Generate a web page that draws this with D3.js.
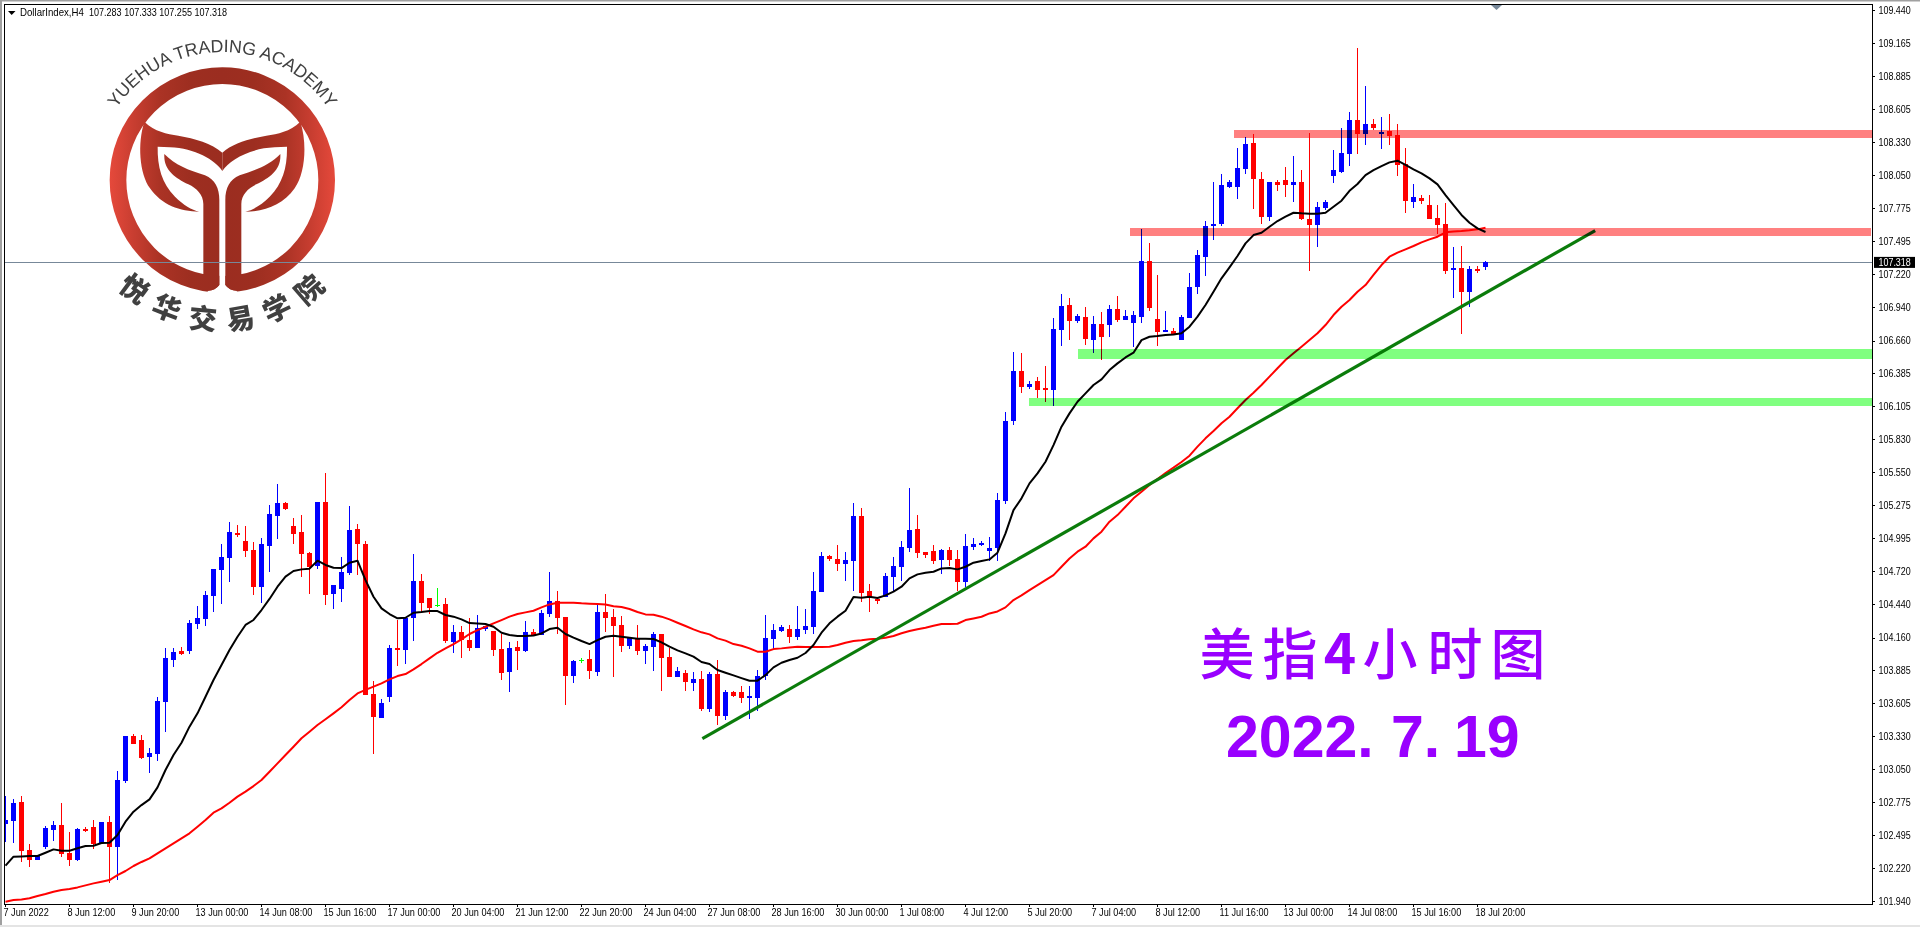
<!DOCTYPE html>
<html><head><meta charset="utf-8"><title>DollarIndex H4</title>
<script src="https://cdnjs.cloudflare.com/ajax/libs/d3/7.8.5/d3.min.js"></script>
<style>html,body{margin:0;padding:0;background:#fff;overflow:hidden}svg{display:block}</style></head><body>
<svg id="c" width="1920" height="927"></svg>
<script>
const priceTicks=[109.44,109.165,108.885,108.605,108.33,108.05,107.775,107.495,107.22,106.94,106.66,106.385,106.105,105.83,105.55,105.275,104.995,104.72,104.44,104.16,103.885,103.605,103.33,103.05,102.775,102.495,102.22,101.94];
const dateLabels=["7 Jun 2022","8 Jun 12:00","9 Jun 20:00","13 Jun 00:00","14 Jun 08:00","15 Jun 16:00","17 Jun 00:00","20 Jun 04:00","21 Jun 12:00","22 Jun 20:00","24 Jun 04:00","27 Jun 08:00","28 Jun 16:00","30 Jun 00:00","1 Jul 08:00","4 Jul 12:00","5 Jul 20:00","7 Jul 04:00","8 Jul 12:00","11 Jul 16:00","13 Jul 00:00","14 Jul 08:00","15 Jul 16:00","18 Jul 20:00"];
const opens=[102.591,102.616,102.776,102.372,102.290,102.400,102.540,102.582,102.344,102.290,102.548,102.565,102.431,102.607,102.400,102.952,103.331,103.298,103.155,103.183,103.620,103.971,104.047,104.047,104.274,104.316,104.510,104.729,104.830,105.040,104.973,104.897,104.586,104.931,105.183,105.293,105.099,105.049,104.872,104.762,105.301,104.527,104.569,104.703,105.074,104.948,103.685,103.483,103.660,104.072,
104.055,104.324,104.636,104.493,104.434,104.442,104.122,104.206,104.139,104.072,104.232,104.215,104.063,103.870,104.080,104.047,104.206,104.181,104.358,104.467,104.333,103.836,103.968,103.979,103.870,104.375,104.333,104.265,104.089,104.148,104.047,104.080,104.190,103.996,103.828,103.861,103.777,103.811,103.558,103.853,103.499,103.701,103.701,103.651,103.651,103.836,104.148,104.215,104.232,104.164,
104.223,104.248,104.543,104.846,104.821,104.779,104.804,105.183,104.551,104.484,104.501,104.669,104.753,104.913,105.073,104.880,104.888,104.812,104.897,104.821,104.627,104.922,104.939,104.888,104.913,105.309,105.983,106.403,106.269,106.319,106.260,106.243,106.749,106.959,106.824,106.858,106.664,106.799,106.791,106.925,106.833,106.807,106.861,107.330,
106.841,106.732,106.740,106.664,106.850,107.111,107.363,107.624,107.641,107.952,107.952,108.104,108.323,108.020,107.700,107.994,108.011,107.969,107.994,107.683,107.632,107.776,108.045,108.079,108.230,108.516,108.399,108.483,108.399,108.424,108.390,108.146,107.826,107.860,107.801,107.691,107.641,107.254,107.271,107.068,107.262,107.283];
const highs=[102.826,102.801,102.826,102.422,102.324,102.574,102.616,102.767,102.526,102.557,102.565,102.624,102.607,102.658,103.037,103.331,103.348,103.340,103.230,103.660,104.072,104.072,104.080,104.308,104.426,104.552,104.737,104.948,105.133,105.107,105.099,104.964,104.998,105.276,105.453,105.301,105.166,105.192,104.880,105.301,105.545,104.602,104.838,105.267,105.116,104.973,103.794,103.643,104.097,104.308,
104.336,104.863,104.695,104.493,104.577,104.493,104.265,104.257,104.324,104.350,104.257,104.215,104.190,104.122,104.131,104.299,104.232,104.392,104.712,104.552,104.333,103.971,103.988,104.055,104.434,104.526,104.400,104.341,104.164,104.265,104.105,104.206,104.190,104.072,103.912,103.887,103.870,103.878,103.870,103.971,103.718,103.710,103.752,103.752,103.887,104.350,104.274,104.265,104.265,104.425,
104.400,104.711,104.880,104.854,104.939,104.880,105.292,105.250,104.610,104.501,104.703,104.838,104.972,105.419,105.191,104.880,104.939,104.905,104.922,104.897,105.031,104.998,104.972,105.006,105.376,106.058,106.563,106.555,106.319,106.353,106.445,106.850,107.052,107.018,106.883,106.942,106.866,106.900,106.959,107.035,106.917,106.909,107.599,107.481,
107.212,106.909,106.765,106.875,107.228,107.422,107.666,107.994,108.062,108.011,108.281,108.373,108.399,108.079,107.994,108.011,108.121,108.213,108.095,108.407,107.826,107.843,108.264,108.449,108.584,109.122,108.803,108.525,108.542,108.567,108.483,108.281,107.978,107.885,107.885,107.801,107.818,107.447,107.456,107.287,107.287,107.333];
const lows=[102.442,102.433,102.273,102.231,102.290,102.377,102.450,102.310,102.240,102.282,102.526,102.383,102.431,102.097,102.122,102.938,103.264,103.138,103.023,103.121,103.365,103.915,104.013,104.022,104.232,104.257,104.375,104.442,104.628,105.009,104.838,104.518,104.451,104.712,104.990,105.234,104.948,104.670,104.527,104.737,104.434,104.400,104.459,104.687,104.687,103.676,103.180,103.483,103.617,103.921,
103.937,104.131,104.375,104.358,104.417,104.114,104.030,103.988,104.047,104.072,104.215,104.004,103.802,103.701,103.887,104.038,104.173,104.181,104.333,104.190,103.592,103.777,103.945,103.811,103.836,104.206,103.828,104.038,104.063,104.013,103.937,103.878,103.710,103.828,103.828,103.710,103.710,103.541,103.533,103.424,103.466,103.659,103.609,103.474,103.541,103.802,104.063,104.206,104.114,104.139,
104.190,104.190,104.543,104.804,104.720,104.636,104.551,104.459,104.375,104.442,104.501,104.551,104.636,104.880,104.829,104.829,104.779,104.695,104.762,104.551,104.585,104.897,104.930,104.804,104.804,105.284,105.949,106.218,106.252,106.176,106.142,106.109,106.614,106.664,106.807,106.622,106.555,106.496,106.690,106.816,106.833,106.605,106.808,106.909,
106.614,106.732,106.707,106.664,106.850,107.052,107.203,107.506,107.624,107.944,107.851,108.062,107.767,107.641,107.666,107.919,107.868,107.826,107.675,107.245,107.447,107.759,107.986,108.070,108.129,108.230,108.306,108.432,108.272,108.306,108.045,107.733,107.776,107.809,107.683,107.557,107.220,107.018,106.715,106.942,107.228,107.255];
const closes=[102.624,102.767,102.366,102.290,102.324,102.557,102.582,102.341,102.290,102.548,102.534,102.422,102.607,102.400,102.961,103.331,103.264,103.146,103.188,103.626,103.988,104.038,104.022,104.283,104.325,104.518,104.737,104.838,105.049,105.023,104.889,104.586,104.948,105.200,105.293,105.242,105.032,104.863,104.754,105.301,104.518,104.602,104.712,105.065,104.948,103.676,103.491,103.609,104.072,104.055,
104.324,104.636,104.451,104.408,104.434,104.131,104.206,104.139,104.072,104.240,104.257,104.055,103.861,104.072,104.047,104.206,104.173,104.366,104.467,104.324,103.836,103.962,103.968,103.878,104.375,104.324,104.257,104.089,104.164,104.047,104.089,104.190,103.988,103.828,103.878,103.786,103.811,103.558,103.853,103.499,103.701,103.668,103.651,103.668,103.836,104.156,104.223,104.249,104.164,104.232,
104.257,104.551,104.846,104.821,104.779,104.812,105.183,104.535,104.501,104.467,104.678,104.762,104.922,105.065,104.871,104.854,104.804,104.897,104.812,104.627,104.930,104.947,104.955,104.913,105.318,105.983,106.403,106.269,106.294,106.243,106.243,106.757,106.951,106.824,106.866,106.673,106.799,106.690,106.925,106.833,106.866,106.875,107.330,106.934,
106.732,106.749,106.715,106.858,107.111,107.380,107.624,107.641,107.969,107.994,108.112,108.314,108.020,107.700,107.994,107.969,107.969,107.994,107.683,107.632,107.784,107.826,108.095,108.239,108.516,108.399,108.483,108.449,108.415,108.382,108.138,107.835,107.868,107.835,107.683,107.632,107.245,107.271,107.068,107.262,107.245,107.318];
const maFast=[102.240,102.316,102.318,102.321,102.321,102.349,102.377,102.366,102.366,102.386,102.405,102.408,102.431,102.433,102.498,102.610,102.694,102.750,102.798,102.899,103.045,103.171,103.275,103.410,103.522,103.662,103.803,103.929,104.055,104.167,104.266,104.308,104.392,104.485,104.588,104.673,104.720,104.734,104.740,104.807,104.771,104.748,104.745,104.790,104.807,104.644,104.504,104.406,104.358,104.322,
104.327,104.369,104.375,104.383,104.383,104.350,104.336,104.313,104.282,104.279,104.274,104.251,104.201,104.181,104.173,104.173,104.178,104.195,104.232,104.243,104.190,104.159,104.131,104.105,104.139,104.167,104.176,104.167,104.159,104.150,104.150,104.148,104.119,104.083,104.052,104.027,103.999,103.954,103.937,103.887,103.864,103.842,103.819,103.797,103.797,103.844,103.909,103.948,103.971,103.990,
104.030,104.097,104.201,104.280,104.336,104.386,104.501,104.495,104.504,104.493,104.515,104.546,104.588,104.658,104.692,104.706,104.714,104.742,104.745,104.734,104.756,104.790,104.804,104.818,104.874,105.037,105.233,105.332,105.458,105.542,105.640,105.780,105.935,106.047,106.145,106.215,106.286,106.333,106.412,106.468,106.518,106.558,106.664,106.692,
106.698,106.707,106.712,106.721,106.777,106.861,106.959,107.071,107.184,107.276,107.372,107.478,107.548,107.568,107.618,107.666,107.703,107.736,107.731,107.728,107.728,107.736,107.787,107.837,107.921,107.978,108.053,108.095,108.129,108.160,108.174,108.138,108.101,108.067,108.025,107.975,107.885,107.801,107.717,107.652,107.604,107.574];
const maSlow=[101.937,101.951,101.956,101.965,101.984,102.001,102.021,102.035,102.043,102.057,102.074,102.091,102.105,102.119,102.161,102.195,102.237,102.271,102.301,102.344,102.386,102.428,102.470,102.512,102.568,102.624,102.686,102.722,102.770,102.821,102.863,102.910,102.961,103.031,103.101,103.171,103.241,103.312,103.368,103.424,103.472,103.522,103.573,103.634,103.690,103.719,103.747,103.775,103.808,103.836,
103.853,103.892,103.937,103.985,104.032,104.069,104.105,104.145,104.190,104.223,104.251,104.279,104.307,104.336,104.358,104.372,104.386,104.414,104.439,104.453,104.453,104.453,104.448,104.445,104.442,104.439,104.423,104.417,104.400,104.375,104.355,104.352,104.336,104.313,104.285,104.257,104.229,104.204,104.187,104.153,104.134,104.105,104.091,104.069,104.041,104.041,104.063,104.069,104.077,104.083,
104.081,104.081,104.081,104.083,104.097,104.117,104.131,104.137,104.145,104.150,104.159,104.173,104.196,104.215,104.230,104.243,104.260,104.274,104.274,104.276,104.307,104.321,104.335,104.363,104.380,104.414,104.476,104.515,104.560,104.602,104.644,104.686,104.756,104.826,104.883,104.925,104.995,105.051,105.135,105.191,105.261,105.332,105.388,105.444,
105.495,105.545,105.590,105.638,105.691,105.767,105.837,105.899,105.964,106.019,106.090,106.160,106.221,106.286,106.356,106.427,106.496,106.553,106.608,106.664,106.721,106.791,106.875,106.945,107.001,107.071,107.127,107.212,107.296,107.366,107.400,107.428,107.456,107.487,107.512,107.534,107.571,107.579,107.582,107.588,107.596,107.610];
const trendIndex=[87.17,198.77];
const trendPrice=[103.309,107.586];
const bandStart=[153.6,140.6,134.1,128];
const bandEnd=[233.4,233.25,233.4,233.4];
const bandTop=[108.432,107.607,106.589,106.177];
const bandBottom=[108.365,107.540,106.505,106.109];
const bandColor=["#ff8080","#ff8080","#80ff80","#80ff80"];
const lastPrice=107.318;
const headerSymbol="DollarIndex,H4";
const headerOHLC="107.283 107.333 107.255 107.318";

const svg=d3.select("#c");
const uiFont="'Liberation Sans',Arial,sans-serif";
const x=d3.scaleLinear().domain([0,1]).range([5,13]);
const y=d3.scaleLinear().domain([101.94,109.44]).range([901.3,10.3]);
const defs=svg.append("defs");
defs.append("clipPath").attr("id","plot").append("rect").attr("x",5).attr("y",5).attr("width",1867).attr("height",899);

// window frame
svg.append("rect").attr("x",0).attr("y",0).attr("width",1920).attr("height",1.5).attr("fill","#a0a0a0");
svg.append("rect").attr("x",0).attr("y",0).attr("width",2).attr("height",927).attr("fill","#a0a0a0");
svg.append("rect").attr("x",0).attr("y",925).attr("width",1920).attr("height",2).attr("fill","#e4e4e4");

// logo (drawn in a 3x local space)
const logo=svg.append("g");
const grad=defs.append("linearGradient").attr("id","logoGrad").attr("gradientUnits","userSpaceOnUse").attr("x1",90).attr("x2",765).attr("y1",0).attr("y2",0);
[[0,"#e5493b"],[0.1,"#c93e31"],[0.22,"#ab3325"],[0.36,"#9d2e20"],[0.5,"#9b2d20"],[0.64,"#9d2e20"],[0.78,"#ab3325"],[0.9,"#c93e31"],[1,"#e5493b"]].forEach(s=>grad.append("stop").attr("offset",s[0]).attr("stop-color",s[1]));
const lg=logo.append("g").attr("transform","translate(80,0) scale(0.33333)");
lg.append("circle").attr("cx",427).attr("cy",540).attr("r",313).attr("fill","none").attr("stroke","url(#logoGrad)").attr("stroke-width",50);
const leaf="M193,365 C225,395 260,402 295,407 C345,416 395,430 427,458 L427,513 C405,480 345,445 270,442 L233,440 C232,500 245,550 285,590 C310,615 335,630 358,635 C300,635 245,615 210,565 C178,520 172,430 193,365Z";
const stem="M253,462 C285,495 325,510 375,526 C405,538 418,565 418,600 L418,855 Q405,872 385,872 L340,862 L370,822 L370,612 C370,585 350,565 325,553 C285,533 250,510 253,462Z";
const chamfer="M418,855 L427,855 L427,885 L375,885 L385,872 Q405,872 418,855Z";
const mirror="translate(854,0) scale(-1,1)";
lg.append("rect").attr("x",418).attr("y",770).attr("width",18).attr("height",115).attr("fill","#fff");
lg.append("path").attr("d",chamfer).attr("fill","#fff");
lg.append("path").attr("d",chamfer).attr("fill","#fff").attr("transform",mirror);
[leaf,stem].forEach(d=>{
  lg.append("path").attr("d",d).attr("fill","url(#logoGrad)");
  lg.append("path").attr("d",d).attr("fill","url(#logoGrad)").attr("transform",mirror);
});
defs.append("path").attr("id","arcEn").attr("d","M94.3,180 A128,128 0 0 1 350.3,180");
defs.append("path").attr("id","arcCn").attr("d","M72.3,180 A150,150 0 0 0 372.3,180");
logo.append("text").attr("font-family",uiFont).attr("font-size",17.8).attr("fill","#404040").attr("text-anchor","middle")
 .append("textPath").attr("href","#arcEn").attr("startOffset","50%").text("YUEHUA TRADING ACADEMY");
logo.append("text").attr("font-family","'Noto Sans CJK SC'").attr("font-weight",900).attr("font-size",28).attr("fill","#404040").attr("text-anchor","middle").attr("letter-spacing",12.5)
 .append("textPath").attr("href","#arcCn").attr("startOffset","51.3%").text("悦华交易学院");

// price line
svg.append("line").attr("x1",4).attr("x2",1872).attr("y1",y(lastPrice)).attr("y2",y(lastPrice)).attr("stroke","#778899").attr("stroke-width",1).attr("shape-rendering","crispEdges");

// candles
const idx=d3.range(opens.length);
const plot=svg.append("g").attr("clip-path","url(#plot)");
const colour=i=>closes[i]>opens[i]?"#0000ff":closes[i]<opens[i]?"#ff0000":"#00ff00";
plot.append("g").selectAll("rect").data(idx).join("rect")
 .attr("x",i=>Math.round(x(i))).attr("width",1)
 .attr("y",i=>Math.round(y(highs[i]))).attr("height",i=>Math.max(1,Math.round(y(lows[i]))-Math.round(y(highs[i]))))
 .attr("fill",colour).attr("shape-rendering","crispEdges");
plot.append("g").selectAll("rect").data(idx).join("rect")
 .attr("x",i=>Math.round(x(i))-2).attr("width",5)
 .attr("y",i=>Math.round(y(Math.max(opens[i],closes[i]))))
 .attr("height",i=>Math.max(1,Math.round(y(Math.min(opens[i],closes[i])))-Math.round(y(Math.max(opens[i],closes[i])))))
 .attr("fill",colour).attr("shape-rendering","crispEdges");

// moving averages
const line=d3.line().x(i=>x(i)+0.5);
plot.append("path").attr("d",line.y(i=>y(maSlow[i]))(idx)).attr("fill","none").attr("stroke","#ff0000").attr("stroke-width",2).attr("stroke-linejoin","round");
plot.append("path").attr("d",line.y(i=>y(maFast[i]))(idx)).attr("fill","none").attr("stroke","#000").attr("stroke-width",2).attr("stroke-linejoin","round");

// trend line
svg.append("line").attr("x1",x(trendIndex[0])).attr("x2",x(trendIndex[1])).attr("y1",y(trendPrice[0])).attr("y2",y(trendPrice[1])).attr("stroke","#0b7c0b").attr("stroke-width",3.2);

// zones
svg.append("g").selectAll("rect").data(bandStart).join("rect")
 .attr("x",(d,i)=>x(d)).attr("width",(d,i)=>x(bandEnd[i])-x(d))
 .attr("y",(d,i)=>y(bandTop[i])).attr("height",(d,i)=>y(bandBottom[i])-y(bandTop[i]))
 .attr("fill",(d,i)=>bandColor[i]).style("mix-blend-mode","multiply").attr("shape-rendering","crispEdges");

// frame
svg.append("rect").attr("x",4.5).attr("y",4.5).attr("width",1868).attr("height",900).attr("fill","none").attr("stroke","#000").attr("stroke-width",1).attr("shape-rendering","crispEdges");

// axes
const squeeze=function(r){return function(){const w=this.getComputedTextLength();this.setAttribute("textLength",w*r);this.setAttribute("lengthAdjust","spacingAndGlyphs");};};
const yAxis=d3.axisRight(y).tickValues(priceTicks).tickFormat(d3.format(".3f")).tickSize(3).tickPadding(3.5);
const gy=svg.append("g").attr("transform","translate(1872,0)").call(yAxis);
gy.select(".domain").remove();
gy.selectAll("text").attr("font-family",uiFont).attr("font-size",10.5).attr("fill","#000").each(squeeze(0.85));
gy.selectAll("line").attr("stroke","#000").attr("shape-rendering","crispEdges");
const xAxis=d3.axisBottom(x).tickValues(dateLabels.map((d,i)=>i*8)).tickFormat(v=>dateLabels[v/8]).tickSize(3).tickPadding(1);
const gx=svg.append("g").attr("transform","translate(0,904)").call(xAxis);
gx.select(".domain").remove();
gx.selectAll("text").attr("font-family",uiFont).attr("font-size",10.5).attr("fill","#000").attr("text-anchor","start").attr("dx",-2).attr("y",5).each(squeeze(0.87));
gx.selectAll("line").attr("stroke","#000").attr("shape-rendering","crispEdges");

// last price tag
svg.append("rect").attr("x",1874).attr("y",y(lastPrice)-5.5).attr("width",41).attr("height",11).attr("fill","#000");
svg.append("text").attr("x",1878.5).attr("y",y(lastPrice)).attr("dy","0.34em").attr("font-family",uiFont).attr("font-size",10.5).attr("fill","#fff").text(d3.format(".3f")(lastPrice)).each(squeeze(0.85));

// header
svg.append("path").attr("d","M8,11 L15.5,11 L11.7,15Z").attr("fill","#000");
svg.append("text").attr("x",20).attr("y",16).attr("font-family",uiFont).attr("font-size",10.5).attr("fill","#000").text(headerSymbol).each(squeeze(0.92));
svg.append("text").attr("x",89).attr("y",16).attr("font-family",uiFont).attr("font-size",10.5).attr("fill","#000").text(headerOHLC).each(squeeze(0.86));
svg.append("path").attr("d","M1491,5 L1502,5 L1496.5,10Z").attr("fill","#778899");

// caption
const purple="#9900ff";
const cap=svg.append("text").attr("y",674).attr("font-family","'Noto Sans CJK SC'").attr("font-weight",500).attr("font-size",55).attr("fill",purple).attr("text-anchor","middle");
[["美",1227],["指",1290],["4",1340],["小",1390],["时",1455],["图",1518]].forEach(d=>cap.append("tspan").attr("x",d[1]).attr("font-weight",d[0]==="4"?700:500).text(d[0]));
const cap2=svg.append("text").attr("y",757).attr("font-family",uiFont).attr("font-weight",700).attr("font-size",59).attr("fill",purple);
[["2022.",1226],["7.",1391],["19",1454]].forEach(d=>cap2.append("tspan").attr("x",d[1]).text(d[0]));
</script></body></html>
